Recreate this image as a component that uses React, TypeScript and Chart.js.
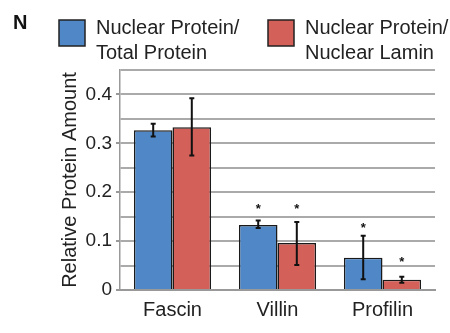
import React, { useEffect, useRef } from "react";
import { Chart, registerables } from "chart.js";

Chart.register(...registerables);

const categories = ["Fascin", "Villin", "Profilin"];
const seriesNames = ["Nuclear Protein/Total Protein", "Nuclear Protein/Nuclear Lamin"];
const legendLines = [
  ["Nuclear Protein/", "Total Protein"],
  ["Nuclear Protein/", "Nuclear Lamin"],
];
const totalValues = [0.327, 0.133, 0.066];
const totalLow = [0.314, 0.127, 0.022];
const totalHigh = [0.34, 0.142, 0.111];
const laminValues = [0.333, 0.096, 0.021];
const laminLow = [0.275, 0.051, 0.015];
const laminHigh = [0.392, 0.139, 0.027];
const totalStars = [null, 0.17, 0.133];
const laminStars = [null, 0.17, 0.063];
const panelLetter = "N";
const yTitle = "Relative Protein Amount";

const FONT = "'Liberation Sans', Arial, Helvetica, sans-serif";
const BLUE = "#4f87c7";
const RED = "#d4605a";

const errorLow = [totalLow, laminLow];
const errorHigh = [totalHigh, laminHigh];
const stars = [totalStars, laminStars];
const colors = [BLUE, RED];

const overlayPlugin = {
  id: "overlay",
  afterDatasetsDraw(chart: any) {
    const ctx = chart.ctx;
    const yScale = chart.scales.y;
    ctx.save();
    chart.data.datasets.forEach((_: any, di: number) => {
      const meta = chart.getDatasetMeta(di);
      meta.data.forEach((bar: any, i: number) => {
        const x = bar.x;
        const yLo = yScale.getPixelForValue(errorLow[di][i]);
        const yHi = yScale.getPixelForValue(errorHigh[di][i]);
        ctx.strokeStyle = "#111";
        ctx.lineWidth = 2;
        ctx.beginPath();
        ctx.moveTo(x, yLo);
        ctx.lineTo(x, yHi);
        ctx.moveTo(x - 2.5, yLo);
        ctx.lineTo(x + 2.5, yLo);
        ctx.moveTo(x - 2.5, yHi);
        ctx.lineTo(x + 2.5, yHi);
        ctx.stroke();
        const s = stars[di][i];
        if (s !== null && s !== undefined) {
          ctx.fillStyle = "#111";
          ctx.font = `bold 13px ${FONT}`;
          ctx.textAlign = "center";
          ctx.textBaseline = "middle";
          ctx.fillText("*", x, yScale.getPixelForValue(s) + 3);
        }
      });
    });
    ctx.restore();
  },
  afterDraw(chart: any) {
    const ctx = chart.ctx;
    ctx.save();
    ctx.fillStyle = "#111";
    ctx.font = `bold 20px ${FONT}`;
    ctx.textAlign = "left";
    ctx.textBaseline = "alphabetic";
    ctx.fillText(panelLetter, 13, 29);
    const boxX = [59, 268];
    legendLines.forEach((lines, di) => {
      const bx = boxX[di];
      ctx.fillStyle = colors[di];
      ctx.fillRect(bx, 20, 26, 26);
      ctx.strokeStyle = "#222";
      ctx.lineWidth = 1.5;
      ctx.strokeRect(bx, 20, 26, 26);
      ctx.fillStyle = "#222";
      ctx.font = `20px ${FONT}`;
      lines.forEach((ln, li) => {
        ctx.fillText(ln, bx + 37, 34 + li * 24.5);
      });
    });
    ctx.restore();
  },
};

export default function App() {
  const ref = useRef<HTMLCanvasElement | null>(null);
  useEffect(() => {
    if (!ref.current) return;
    const chart = new Chart(ref.current, {
      type: "bar",
      data: {
        labels: categories,
        datasets: [
          {
            label: seriesNames[0],
            data: totalValues,
            backgroundColor: BLUE,
            borderColor: "#1a1a1a",
            borderWidth: 1.5,
            categoryPercentage: 0.735,
            barPercentage: 1,
          },
          {
            label: seriesNames[1],
            data: laminValues,
            backgroundColor: RED,
            borderColor: "#1a1a1a",
            borderWidth: 1.5,
            categoryPercentage: 0.735,
            barPercentage: 1,
          },
        ],
      },
      options: {
        responsive: false,
        animation: false,
        layout: { padding: { top: 70, right: 15, left: 0, bottom: 0 } },
        plugins: {
          legend: { display: false },
          tooltip: { enabled: false },
          title: { display: false },
        },
        scales: {
          x: {
            afterFit: (s: any) => {
              s.height = 43;
            },
            grid: { display: false },
            border: { display: true, color: "#999", width: 2 },
            ticks: {
              color: "#222",
              font: { family: FONT, size: 20 },
              padding: 0,
            },
          },
          y: {
            min: 0,
            max: 0.45,
            afterFit: (s: any) => {
              s.width = 120;
            },
            border: { display: true, color: "#999", width: 1.5 },
            grid: {
              color: "#aaa",
              lineWidth: 2,
              tickLength: 4,
              tickColor: (c: any) => {
                const v = c.tick ? c.tick.value : 0;
                return Math.abs(Math.round(v * 10) - v * 10) < 1e-6 ? "#999" : "rgba(0,0,0,0)";
              },
            },
            ticks: {
              stepSize: 0.05,
              color: "#222",
              font: { family: FONT, size: 19 },
              padding: 4,
              autoSkip: false,
              callback: (v: any) => {
                const n = Number(v);
                if (Math.abs(Math.round(n * 10) - n * 10) > 1e-6) return "";
                return n === 0 ? "0" : n.toFixed(1);
              },
            },
            title: {
              display: true,
              text: yTitle,
              color: "#222",
              font: { family: FONT, size: 20 },
              padding: { top: 58, bottom: 0 },
            },
          },
        },
      },
      plugins: [overlayPlugin],
    } as any);
    return () => chart.destroy();
  }, []);
  return (
    <div style={{ position: "absolute", left: 0, top: 0, width: 450, height: 333, background: "#fff" }}>
      <canvas ref={ref} width={450} height={333} style={{ display: "block" }} />
    </div>
  );
}
